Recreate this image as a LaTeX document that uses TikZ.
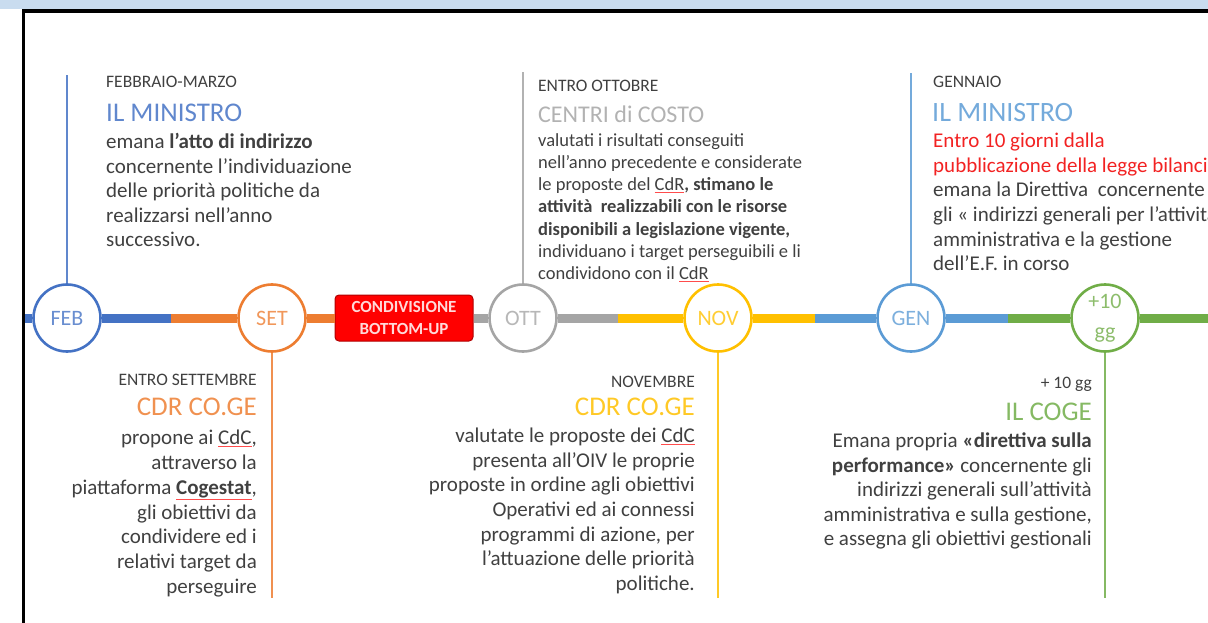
\documentclass[tikz,border=0pt]{standalone}
\usepackage{fontspec}
\setmainfont{Carlito}
\usetikzlibrary{positioning}

\definecolor{cfeb}{HTML}{4472C4}
\definecolor{cset}{HTML}{ED7D31}
\definecolor{cott}{HTML}{A5A5A5}
\definecolor{cnov}{HTML}{FFC000}
\definecolor{cgen}{HTML}{5B9BD5}
\definecolor{cgg}{HTML}{70AD47}
\definecolor{testo}{HTML}{404040}
\definecolor{fascia}{HTML}{C9DCEF}
\definecolor{rosso}{HTML}{F22222}
\definecolor{bordorosso}{HTML}{B00000}

\newcommand{\sott}[1]{{\color{red!70}\underline{\textcolor{testo}{#1}}}}

\begin{document}
\begin{tikzpicture}[x=1pt, y=-1pt,
  mese/.style={shape=circle, draw=#1, line width=2.6pt, fill=white, minimum size=67pt, inner sep=0pt, align=center, text=#1!80!white, font=\fontsize{22}{30}\selectfont},
  linea/.style={line width=9pt, draw=#1},
  asta/.style={line width=1.6pt, draw=#1!85!white},
  periodo/.style={inner sep=0pt, text=testo, font=\fontsize{17.5}{20}\selectfont},
  chi/.style={inner sep=0pt, text=#1!85!white, font=\fontsize{27}{30}\selectfont},
  corpo/.style={inner sep=0pt, text=testo, font=\fontsize{21}{24.6}\selectfont}]

\clip (0,0) rectangle (1208,623);

% cornice
\fill[fascia] (0,0) rectangle (1208,9.5);
\draw[line width=4pt] (22,11.5) -- (1208,11.5);
\draw[line width=3.5pt] (23.5,9.5) -- (23.5,623);

% linea del tempo
\node[mese=cfeb] (feb) at (67,318) {FEB};
\node[mese=cset] (set) at (272,318) {SET};
\node[shape=rectangle, rounded corners=4pt, fill=red, draw=bordorosso, line width=1pt, minimum width=138pt, minimum height=46pt, align=center, inner sep=0pt, text=red!15!white, font=\bfseries\fontsize{17}{22}\selectfont] (bup) at (404,318) {CONDIVISIONE\\BOTTOM-UP};
\node[mese=cott] (ott) at (523,318) {OTT};
\node[mese=cnov] (nov) at (718,318) {NOV};
\node[mese=cgen] (gen) at (911,318) {GEN};
\node[mese=cgg] (gg) at (1105,318) {+10\\gg};

\coordinate (inizio) at (25,318);
\coordinate (b1) at (171,318);
\coordinate (b2) at (618,318);
\coordinate (b3) at (815,318);
\coordinate (b4) at (1008,318);
\coordinate (fine) at (1208,318);

\draw[linea=cfeb] (inizio) -- (feb) -- (b1);
\draw[linea=cset] (b1) -- (set) -- (bup);
\draw[linea=cott] (bup) -- (ott) -- (b2);
\draw[linea=cnov] (b2) -- (nov) -- (b3);
\draw[linea=cgen] (b3) -- (gen) -- (b4);
\draw[linea=cgg] (b4) -- (gg) -- (fine);

% aste verso i testi
\coordinate (pfeb) at (67,75);
\coordinate (pset) at (272,598);
\coordinate (pott) at (523,72);
\coordinate (pnov) at (718,598);
\coordinate (pgen) at (911,73);
\coordinate (pgg) at (1105,598);

\draw[asta=cfeb] (feb) -- (pfeb);
\draw[asta=cset] (set) -- (pset);
\draw[asta=cott] (ott) -- (pott);
\draw[asta=cnov] (nov) -- (pnov);
\draw[asta=cgen] (gen) -- (pgen);
\draw[asta=cgg] (gg) -- (pgg);

% febbraio
\node[periodo, anchor=base west] (tfeb) at (106,88) {FEBBRAIO-MARZO};
\node[chi=cfeb, anchor=base west] (nfeb) at (106,122) {IL MINISTRO};
\node[corpo, anchor=north west, align=left] (dfeb) at (106,133) {emana \textbf{l’atto di indirizzo}\\
concernente l’individuazione\\
delle priorità politiche da\\
realizzarsi nell’anno\\
successivo.};

% ottobre
\node[periodo, anchor=base west] (tott) at (538,92) {ENTRO OTTOBRE};
\node[chi=cott, anchor=base west, font=\fontsize{24}{28}\selectfont] (nott) at (538,123) {CENTRI di COSTO};
\node[corpo, anchor=north west, align=left, font=\fontsize{18.5}{22.3}\selectfont] (dott) at (538,133) {valutati i risultati conseguiti\\
nell’anno precedente e considerate\\
le proposte del \sott{CdR}\textbf{, stimano le}\\
\textbf{attività\ \ realizzabili con le risorse}\\
\textbf{disponibili a legislazione vigente,}\\
individuano i target perseguibili e li\\
condividono con il \sott{CdR}};

% gennaio
\node[periodo, anchor=base west] (tgen) at (933,88) {GENNAIO};
\node[chi=cgen, anchor=base west, font=\fontsize{28}{30}\selectfont] (ngen) at (932,122) {IL MINISTRO};
\node[corpo, anchor=north west, align=left] (dgen) at (933,133) {\textcolor{rosso}{Entro 10 giorni dalla}\\
\textcolor{rosso}{pubblicazione della legge bilancio}\\
emana la Direttiva\ \ concernente\\
gli « indirizzi generali per l’attività\\
amministrativa e la gestione\\
dell’E.F. in corso};

% settembre
\node[periodo, anchor=base east] (tset) at (257,385) {ENTRO SETTEMBRE};
\node[chi=cset, anchor=base east] (nset) at (257,415) {CDR CO.GE};
\node[corpo, anchor=north east, align=right, font=\fontsize{21}{24.8}\selectfont] (dset) at (257,430) {propone ai \sott{CdC},\\
attraverso la\\
piattaforma \textbf{\sott{Cogestat}},\\
gli obiettivi da\\
condividere ed i\\
relativi target da\\
perseguire};

% novembre
\node[periodo, anchor=base east] (tnov) at (695,387) {NOVEMBRE};
\node[chi=cnov, anchor=base east] (nnov) at (695,415) {CDR CO.GE};
\node[corpo, anchor=north east, align=right] (dnov) at (695,428) {valutate le proposte dei \sott{CdC}\\
presenta all’OIV le proprie\\
proposte in ordine agli obiettivi\\
Operativi ed ai connessi\\
programmi di azione, per\\
l’attuazione delle priorità\\
politiche.};

% +10 gg
\node[periodo, anchor=base east] (tgg) at (1092,388) {+ 10 gg};
\node[chi=cgg, anchor=base east] (ngg) at (1092,420) {IL COGE};
\node[corpo, anchor=north east, align=right, font=\fontsize{21}{24.4}\selectfont] (dgg) at (1092,433) {Emana propria \textbf{«direttiva sulla}\\
\textbf{performance»} concernente gli\\
indirizzi generali sull’attività\\
amministrativa e sulla gestione,\\
e assegna gli obiettivi gestionali};

\end{tikzpicture}
\end{document}
